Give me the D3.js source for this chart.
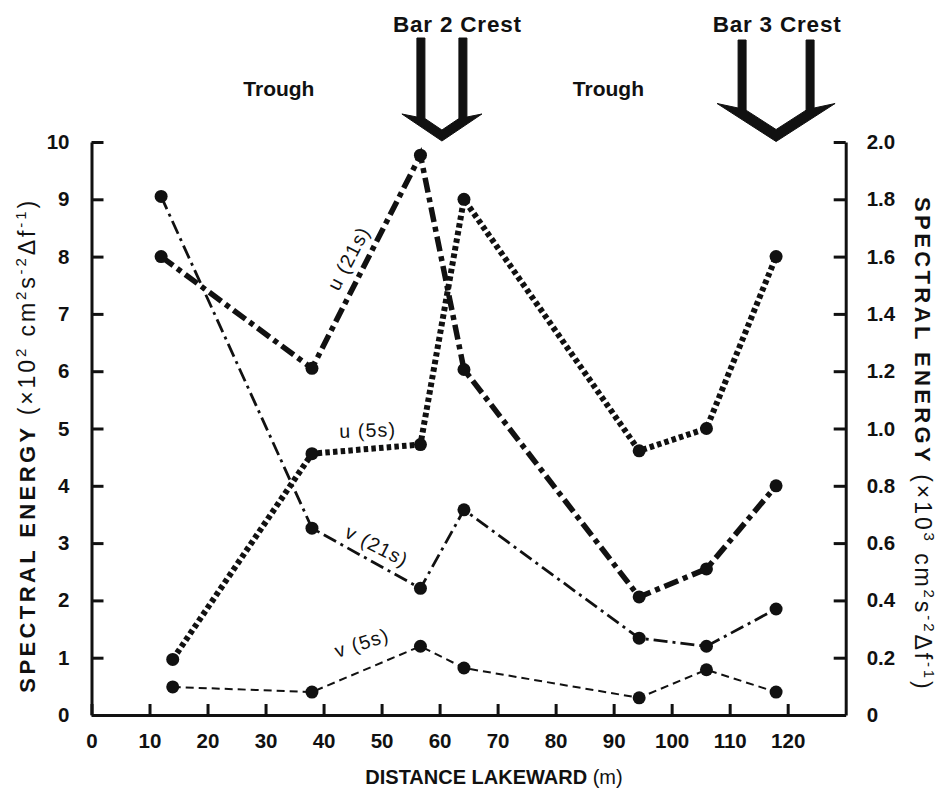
<!DOCTYPE html>
<html>
<head>
<meta charset="utf-8">
<script src="https://cdn.jsdelivr.net/npm/d3@7"></script>
<style>
  html, body { margin: 0; padding: 0; background: #fff; }
  svg { display: block; font-family: "Liberation Sans", Arial, Helvetica, sans-serif; }
</style>
</head>
<body>
<svg id="chart" width="948" height="793"></svg>
<script>
// Measurement stations, metres lakeward
const stations21 = [12, 38, 56.7, 64.2, 94.4, 106, 118];
const stations5  = [14, 38, 56.7, 64.2, 94.4, 106, 118];

// 21 s band, left axis (x10^2 cm^2 s^-2 per df)
const u21 = [8.0, 6.05, 9.77, 6.03, 2.06, 2.55, 4.0];
const v21 = [9.05, 3.26, 2.21, 3.58, 1.34, 1.2, 1.85];

// 5 s band, right axis (x10^3 cm^2 s^-2 per df)
const u5 = [0.194, 0.912, 0.944, 1.8, 0.922, 1.0, 1.6];
const v5 = [0.098, 0.08, 0.24, 0.164, 0.06, 0.158, 0.08];

// Tick values
const xTicks = [0, 10, 20, 30, 40, 50, 60, 70, 80, 90, 100, 110, 120];
const leftTicks = [0, 1, 2, 3, 4, 5, 6, 7, 8, 9, 10];
const rightTicks = [0, 0.2, 0.4, 0.6, 0.8, 1.0, 1.2, 1.4, 1.6, 1.8, 2.0];

// Bar crests and troughs along the profile (m)
const crestNames = ["Bar 2 Crest", "Bar 3 Crest"];
const crestAt = [60.4, 118.0];
const troughNames = ["Trough", "Trough"];
const troughAt = [32.3, 89.1];

// ---------------------------------------------------------------
const svg = d3.select("#chart");
const INK = "#111";

const x = d3.scaleLinear().domain([0, 130]).range([91.5, 845.7]);
const yL = d3.scaleLinear().domain([0, 10]).range([715, 142]);
const yR = d3.scaleLinear().domain([0, 2]).range([715, 142]);

function styleAxis(g) {
  g.selectAll(".domain").attr("stroke", INK).attr("stroke-width", 3);
  g.selectAll(".tick line").attr("stroke", INK).attr("stroke-width", 3);
  g.selectAll(".tick text")
    .attr("fill", INK)
    .style("font-size", "20.5px")
    .style("font-weight", "bold");
}

// bottom axis
svg.append("g")
  .attr("transform", `translate(0,${yL(0)})`)
  .call(d3.axisBottom(x).tickValues(xTicks).tickSizeInner(-11).tickSizeOuter(0).tickPadding(18))
  .call(styleAxis);

// left axis
svg.append("g")
  .attr("transform", `translate(${x(0)},0)`)
  .call(d3.axisLeft(yL).tickValues(leftTicks).tickSizeInner(-12).tickSizeOuter(0).tickPadding(22))
  .call(styleAxis);

// right axis
svg.append("g")
  .attr("transform", `translate(${x(130)},0)`)
  .call(d3.axisRight(yR).tickValues(rightTicks).tickSizeInner(-12).tickSizeOuter(0).tickPadding(21)
    .tickFormat(d => d === 0 ? "0" : d3.format(".1f")(d)))
  .call(styleAxis);

// ---------------------------------------------------------------
// series
const series = [
  { key: "u21", xs: stations21, ys: u21, scale: yL },
  { key: "v21", xs: stations21, ys: v21, scale: yL },
  { key: "u5",  xs: stations5,  ys: u5,  scale: yR },
  { key: "v5",  xs: stations5,  ys: v5,  scale: yR }
];
const lineStyle = {
  u21: { width: 5.5, dash: "15,5,5,5" },
  u5:  { width: 6,   dash: "4.5,3.2" },
  v21: { width: 2.8, dash: "14,5,3,5" },
  v5:  { width: 2,   dash: "8,5" }
};

const line = d3.line().x(d => d[0]).y(d => d[1]);

series.forEach(s => {
  const pts = s.xs.map((v, i) => [x(v), s.scale(s.ys[i])]);
  svg.append("path")
    .attr("d", line(pts))
    .attr("fill", "none")
    .attr("stroke", INK)
    .attr("stroke-width", lineStyle[s.key].width)
    .attr("stroke-dasharray", lineStyle[s.key].dash)
    .attr("stroke-linecap", "butt");
});

series.forEach(s => {
  svg.append("g").selectAll("circle")
    .data(s.xs.map((v, i) => [v, s.ys[i]]))
    .join("circle")
    .attr("cx", d => x(d[0]))
    .attr("cy", d => s.scale(d[1]))
    .attr("r", 6.5)
    .attr("fill", INK);
});

// curve labels (positions in metres / left-axis units)
const curveLabels = [
  { text: "u (21s)", at: [44.3, 7.97], angle: -62.5 },
  { text: "u (5s)",  at: [47.6, 4.97], angle: -2 },
  { text: "v (21s)", at: [49.2, 2.95], angle: 27 },
  { text: "v (5s)",  at: [46.6, 1.26], angle: -18 }
];
svg.append("g").selectAll("text")
  .data(curveLabels)
  .join("text")
  .attr("transform", d => `translate(${x(d.at[0])},${yL(d.at[1])}) rotate(${d.angle})`)
  .attr("text-anchor", "middle")
  .attr("dy", "0.35em")
  .attr("fill", INK)
  .style("font-size", "19.5px")
  .style("letter-spacing", "1.2px")
  .text(d => d.text);

// ---------------------------------------------------------------
// crest arrows (hollow down-arrows) and labels
const arrowShape = [
  { outer: 25, inner: 17, top: 38, tipX: 40, tipY: 114,   neckY: 117, apexY: 141,   band: 11 },
  { outer: 38, inner: 30, top: 40, tipX: 59, tipY: 103.5, neckY: 108, apexY: 141.5, band: 12 }
];
const labelShift = [15.5, 1];

function arrowOutline(cx, a) {
  const slope = (a.apexY - a.tipY) / a.tipX;
  const innerY = dx => a.apexY - a.band - slope * Math.abs(dx);
  const p = d3.path();
  p.moveTo(cx - a.outer, a.top);
  p.lineTo(cx - a.inner, a.top);
  p.lineTo(cx - a.inner, innerY(a.inner));
  p.lineTo(cx, innerY(0));
  p.lineTo(cx + a.inner, innerY(a.inner));
  p.lineTo(cx + a.inner, a.top);
  p.lineTo(cx + a.outer, a.top);
  p.lineTo(cx + a.outer, a.neckY);
  p.lineTo(cx + a.tipX, a.tipY);
  p.lineTo(cx, a.apexY);
  p.lineTo(cx - a.tipX, a.tipY);
  p.lineTo(cx - a.outer, a.neckY);
  p.closePath();
  return p.toString();
}

crestAt.forEach((m, i) => {
  const cx = x(m);
  svg.append("path")
    .attr("d", arrowOutline(cx, arrowShape[i]))
    .attr("fill", INK)
    .attr("stroke", INK)
    .attr("stroke-width", 1)
    .attr("stroke-linejoin", "round");

  svg.append("text")
    .attr("x", cx + labelShift[i])
    .attr("y", 31.5)
    .attr("text-anchor", "middle")
    .attr("fill", INK)
    .style("font-size", "22.5px")
    .style("font-weight", "bold")
    .style("letter-spacing", "0.8px")
    .text(crestNames[i]);
});

troughAt.forEach((m, i) => {
  svg.append("text")
    .attr("x", x(m))
    .attr("y", 96)
    .attr("text-anchor", "middle")
    .attr("fill", INK)
    .style("font-size", "21px")
    .style("font-weight", "bold")
    .text(troughNames[i]);
});

// ---------------------------------------------------------------
// axis titles
function energyTitle(t, power) {
  t.append("tspan").style("font-weight", "bold").style("letter-spacing", "3.4px")
    .text("SPECTRAL ENERGY ");
  const parts = [
    ["(\u00d710", 0], [power, 1], ["  cm", 0], ["2", 1], ["s", 0], ["-2", 1],
    ["\u0394f", 0], ["-1", 1], [")", 0]
  ];
  let raised = false;
  parts.forEach(([txt, sup]) => {
    const ts = t.append("tspan").text(txt).style("letter-spacing", "2.9px");
    if (sup) {
      ts.attr("dy", raised ? 0 : -9).style("font-size", "15px");
      raised = true;
    } else {
      ts.attr("dy", raised ? 9 : 0).style("font-size", "23px");
      raised = false;
    }
  });
}

const leftTitle = svg.append("text")
  .attr("transform", "translate(35,198) rotate(-90)")
  .attr("text-anchor", "end")
  .attr("fill", INK)
  .style("font-size", "22px");
energyTitle(leftTitle, "2");

const rightTitle = svg.append("text")
  .attr("transform", "translate(915,197) rotate(90)")
  .attr("text-anchor", "start")
  .attr("fill", INK)
  .style("font-size", "22px");
energyTitle(rightTitle, "3");

const xTitle = svg.append("text")
  .attr("x", 494)
  .attr("y", 784)
  .attr("text-anchor", "middle")
  .attr("fill", INK)
  .style("font-size", "20px");
xTitle.append("tspan").style("font-weight", "bold").text("DISTANCE LAKEWARD ");
xTitle.append("tspan").text("(m)");
</script>
</body>
</html>
